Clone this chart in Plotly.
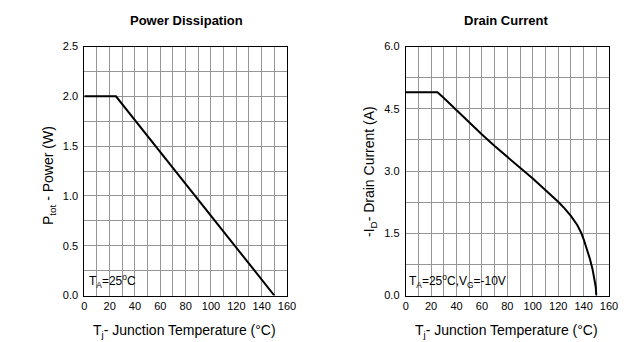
import plotly.graph_objects as go

# Data
temp_power = [0, 25, 150]
power_w = [2.0, 2.0, 0.0]

temp_current = [0, 25, 30, 40, 50, 60, 70, 80, 90, 100, 110, 115, 120, 125, 130, 135, 138, 140, 143, 145, 147, 148, 149, 149.6, 150]
current_a = [4.9, 4.9, 4.76, 4.46, 4.17, 3.88, 3.6, 3.33, 3.08, 2.82, 2.55, 2.41, 2.26, 2.1, 1.92, 1.7, 1.52, 1.36, 1.08, 0.88, 0.64, 0.5, 0.33, 0.2, 0.0]

x_ticks = [0, 20, 40, 60, 80, 100, 120, 140, 160]
power_ticks = [0.0, 0.5, 1.0, 1.5, 2.0, 2.5]
current_ticks = [0.0, 1.5, 3.0, 4.5, 6.0]

W, H = 642, 342
FONT = "Liberation Sans, Arial, sans-serif"

def px(x):
    return x / W

def py(y):
    return 1 - y / H

fig = go.Figure()
fig.add_trace(go.Scatter(x=temp_power, y=power_w, mode="lines",
                         line=dict(color="black", width=2), xaxis="x", yaxis="y",
                         showlegend=False, hoverinfo="skip"))
fig.add_trace(go.Scatter(x=temp_current, y=current_a, mode="lines",
                         line=dict(color="black", width=2),
                         xaxis="x2", yaxis="y2", showlegend=False, hoverinfo="skip"))

grid_col = "#969696"
tickfont = dict(family=FONT, size=11, color="black")

def xaxis(domain, anchor):
    return dict(domain=domain, anchor=anchor, range=[0, 160], tickvals=x_ticks,
                ticktext=[str(v) for v in x_ticks], showgrid=True, gridcolor=grid_col,
                gridwidth=1, minor=dict(dtick=10, tick0=0, showgrid=True, gridcolor=grid_col, gridwidth=1),
                showline=True, linecolor="black", linewidth=1, mirror=True, ticks="",
                tickfont=tickfont, zeroline=False, fixedrange=True, ticklabelstandoff=0,
                automargin=False)

def yaxis(domain, anchor, rng, ticks, minor_dt):
    return dict(domain=domain, anchor=anchor, range=rng, tickvals=ticks,
                ticktext=["%.1f" % v for v in ticks], showgrid=True, gridcolor=grid_col,
                gridwidth=1, minor=dict(dtick=minor_dt, tick0=0, showgrid=True, gridcolor=grid_col, gridwidth=1),
                showline=True, linecolor="black", linewidth=1, mirror=True, ticks="",
                tickfont=tickfont, zeroline=False, fixedrange=True, ticklabelstandoff=3,
                automargin=False)

ydom = [py(295.5), py(46.5)]
fig.update_layout(
    template="none",
    width=W, height=H, margin=dict(l=0, r=0, t=0, b=0, pad=0, autoexpand=False),
    paper_bgcolor="white", plot_bgcolor="white", showlegend=False,
    xaxis=xaxis([px(84.3), px(287)], "y"),
    yaxis=yaxis(ydom, "x", [0, 2.5], power_ticks, 0.25),
    xaxis2=xaxis([px(405.7), px(609)], "y2"),
    yaxis2=yaxis(ydom, "x2", [0, 6.0], current_ticks, 0.75),
)

ann = []
def text(x, y, s, size=14, bold=False, angle=0, xanchor="center"):
    ann.append(dict(x=px(x), y=py(y), xref="paper", yref="paper", text=("<b>%s</b>" % s) if bold else s,
                    showarrow=False, xanchor=xanchor, yanchor="middle", textangle=angle,
                    font=dict(family=FONT, size=size, color="black")))

text(187, 20, "Power Dissipation", size=13, bold=True)
text(506, 20, "Drain Current", size=13, bold=True)
text(185, 331, "T<sub>j</sub>- Junction Temperature (°C)", size=14)
text(506, 331, "T<sub>j</sub>- Junction Temperature (°C)", size=14)
text(49, 176, "P<sub>tot</sub> - Power (W)", size=14, angle=-90)
text(370, 171, "-I<sub>D</sub>- Drain Current (A)", size=14, angle=-90)
text(87, 281, "T<sub>A</sub>=25<sup>o</sup>C", size=12, xanchor="left")
text(407, 281, "T<sub>A</sub>=25<sup>o</sup>C,V<sub>G</sub>=-10V", size=12, xanchor="left")
fig.update_layout(annotations=ann)

fig.write_html("out.html")
